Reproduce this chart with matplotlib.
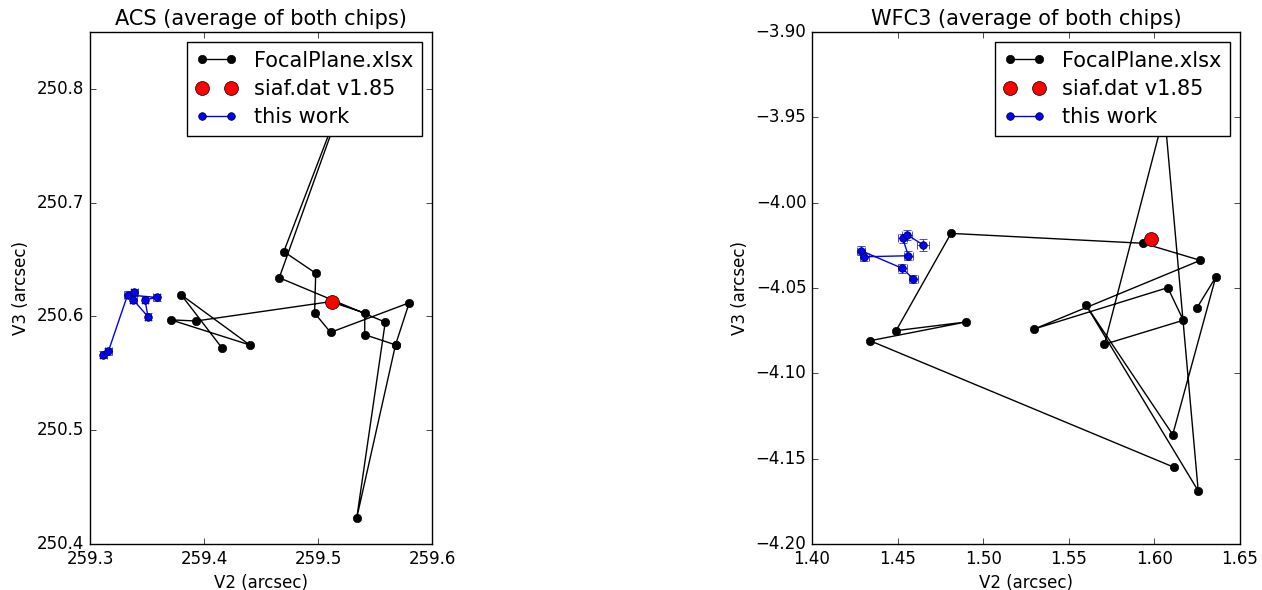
import numpy as np
import matplotlib
matplotlib.use('Agg')
import matplotlib.pyplot as plt

plt.style.use('classic')

# ACS: FocalPlane.xlsx entries, in file order
acs_fp_v2 = [259.416, 259.380, 259.440, 259.371, 259.393, 259.511, 259.541, 259.541,
             259.568, 259.580, 259.511, 259.497, 259.498, 259.470, 259.537, 259.466,
             259.559, 259.534, 259.568]
acs_fp_v3 = [250.572, 250.619, 250.575, 250.597, 250.596, 250.613, 250.603, 250.584,
             250.575, 250.612, 250.586, 250.603, 250.638, 250.657, 250.832, 250.634,
             250.595, 250.423, 250.575]
acs_siaf_v2 = [259.5126]
acs_siaf_v3 = [250.6129]
acs_tw_v2 = [259.3117, 259.3161, 259.3330, 259.3585, 259.3482, 259.3509, 259.3380, 259.3389]
acs_tw_v3 = [250.5664, 250.5693, 250.6190, 250.6167, 250.6146, 250.5997, 250.6146, 250.6213]
acs_tw_err_v2 = [0.003, 0.003, 0.003, 0.003, 0.003, 0.003, 0.003, 0.003]
acs_tw_err_v3 = [0.003, 0.003, 0.003, 0.003, 0.003, 0.003, 0.003, 0.003]

# WFC3
wfc_fp_v2 = [1.6116, 1.4339, 1.4900, 1.4491, 1.4812, 1.5935, 1.6268, 1.5299, 1.6078,
             1.6169, 1.5708, 1.6059, 1.6256, 1.5599, 1.6107, 1.6358, 1.6247]
wfc_fp_v3 = [-4.1551, -4.0809, -4.0699, -4.0750, -4.0180, -4.0238, -4.0338, -4.0740, -4.0498,
             -4.0689, -4.0830, -3.9473, -4.1689, -4.0598, -4.1359, -4.0437, -4.0619]
wfc_siaf_v2 = [1.5978]
wfc_siaf_v3 = [-4.0215]
wfc_tw_v2 = [1.4592, 1.4528, 1.4286, 1.4306, 1.4563, 1.4530, 1.4557, 1.4650]
wfc_tw_v3 = [-4.0447, -4.0385, -4.0281, -4.0317, -4.0311, -4.0209, -4.0189, -4.0248]
wfc_tw_err_v2 = [0.0025, 0.0025, 0.0025, 0.0025, 0.0025, 0.0025, 0.0030, 0.0035]
wfc_tw_err_v3 = [0.0025, 0.0025, 0.0025, 0.0025, 0.0025, 0.0025, 0.0030, 0.0035]

fig = plt.figure(figsize=(12.62, 5.90), facecolor='white')
ax1 = fig.add_axes([90/1262., 46/590., 342/1262., 512/590.])
ax2 = fig.add_axes([812/1262., 46/590., 428/1262., 512/590.])


def draw(ax, fp_x, fp_y, s_x, s_y, tw_x, tw_y, ex, ey, title):
    ax.plot(fp_x, fp_y, 'k-o', ms=6, mec='k', mew=0.5, lw=1, label='FocalPlane.xlsx')
    ax.plot(s_x, s_y, 'o', color='r', ms=10, mec='k', mew=0.5, label='siaf.dat v1.85')
    ax.errorbar(tw_x, tw_y, xerr=ex, yerr=ey, fmt='none', ecolor='b',
                elinewidth=0.5, capsize=3, capthick=0.5)
    ax.plot(tw_x, tw_y, '-o', color='b', ms=5.5, mec='k', mew=0.5, lw=1, label='this work')
    ax.set_title(title, fontsize=15)
    ax.set_xlabel('V2 (arcsec)')
    ax.set_ylabel('V3 (arcsec)')
    ax.ticklabel_format(useOffset=False)
    ax.legend(loc='upper right', fontsize=15, numpoints=2, labelspacing=0.4)


draw(ax1, acs_fp_v2, acs_fp_v3, acs_siaf_v2, acs_siaf_v3, acs_tw_v2, acs_tw_v3,
     acs_tw_err_v2, acs_tw_err_v3, 'ACS (average of both chips)')
ax1.set_xlim(259.3, 259.6)
ax1.set_ylim(250.4, 250.85)
ax1.set_xticks([259.3, 259.4, 259.5, 259.6])
ax1.set_yticks([250.4, 250.5, 250.6, 250.7, 250.8])

draw(ax2, wfc_fp_v2, wfc_fp_v3, wfc_siaf_v2, wfc_siaf_v3, wfc_tw_v2, wfc_tw_v3,
     wfc_tw_err_v2, wfc_tw_err_v3, 'WFC3 (average of both chips)')
ax2.set_xlim(1.40, 1.65)
ax2.set_ylim(-4.20, -3.90)
ax2.set_xticks(np.arange(1.40, 1.651, 0.05))
ax2.set_yticks(np.arange(-4.20, -3.899, 0.05))

fig.savefig('out.png', dpi=100, facecolor='white')
